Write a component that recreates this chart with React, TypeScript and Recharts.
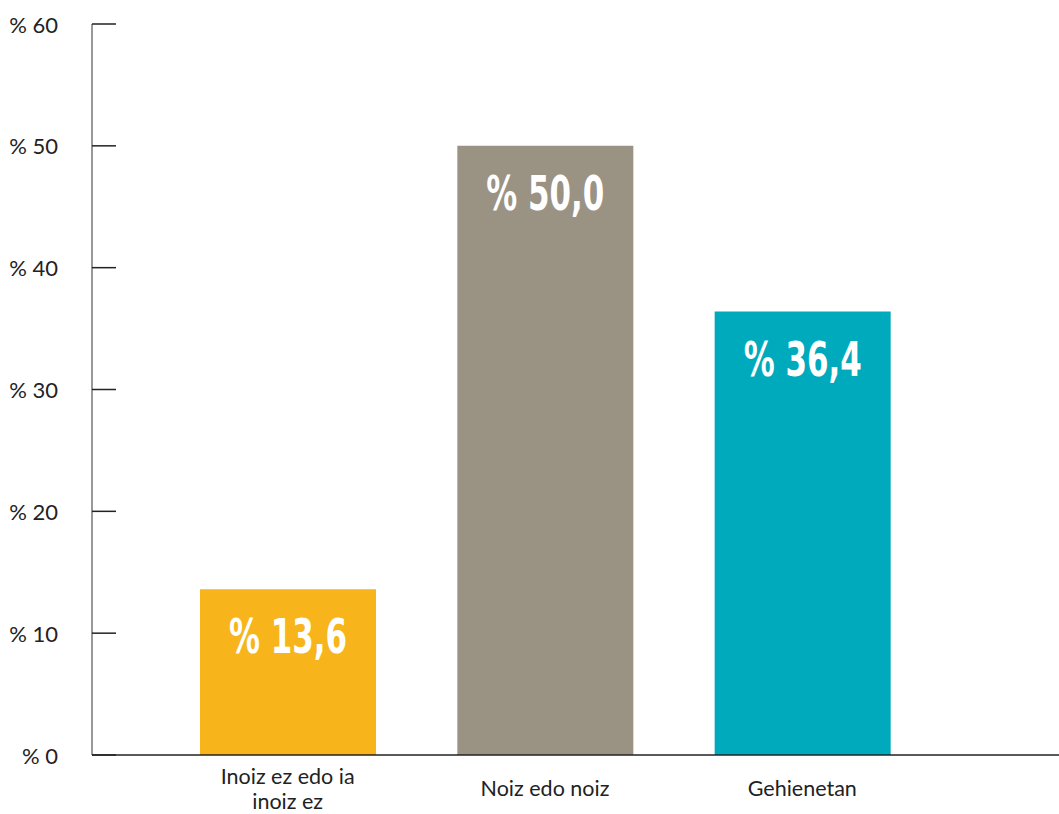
import React from "react";
import { BarChart, Bar, XAxis, YAxis, Cell, LabelList } from "recharts";

const categories = ["Inoiz ez edo ia inoiz ez", "Noiz edo noiz", "Gehienetan"];
const categoryLines = [["Inoiz ez edo ia", "inoiz ez"], ["Noiz edo noiz"], ["Gehienetan"]];
const values = [13.6, 50.0, 36.4];
const valueLabels = ["% 13,6", "% 50,0", "% 36,4"];
const barColors = ["#F8B51B", "#9A9283", "#00AABD"];
const yTicks = [0, 10, 20, 30, 40, 50, 60];

const data = categories.map((c, i) => ({ name: c, value: values[i], label: valueLabels[i], idx: i }));

const FONT = "Lato, 'Open Sans', sans-serif";

const YTick = (props: any) => {
  const { x, y, payload } = props;
  return (
    <g>
      <line x1={x} x2={x + 24} y1={y} y2={y} stroke="#222" strokeWidth={1.5} />
      <text x={x - 34} y={y} textAnchor="end" dominantBaseline="central" fontFamily={FONT} fontSize={22} fill="#222">
        {`% ${payload.value}`}
      </text>
    </g>
  );
};

const XTick = (props: any) => {
  const { x, index } = props;
  const lines = categoryLines[index] || [];
  const lh = 25;
  const center = 788;
  const start = center - ((lines.length - 1) * lh) / 2;
  return (
    <g>
      {lines.map((l: string, i: number) => (
        <text key={i} x={x} y={start + i * lh} textAnchor="middle" dominantBaseline="central" fontFamily={FONT} fontSize={21.5} fill="#222">
          {l}
        </text>
      ))}
    </g>
  );
};

const ValueLabel = (props: any) => {
  const { x, y, width, value } = props;
  return (
    <text
      x={x + width / 2}
      y={y + 47}
      textAnchor="middle"
      dominantBaseline="central"
      fill="#fff"
      fontFamily="'DejaVu Sans Condensed', 'DejaVu Sans', sans-serif"
      fontWeight="bold"
      fontSize={48}
      textLength={118}
      lengthAdjust="spacingAndGlyphs"
    >
      {value}
    </text>
  );
};

export default function App() {
  return (
    <div style={{ position: "absolute", left: 0, top: 0, width: 1059, height: 814, background: "#fff" }}>
      <BarChart width={1059} height={814} data={data} margin={{ top: 24, right: 0, bottom: 0, left: 0 }} barSize={176}>
        <XAxis
          dataKey="name"
          height={59}
          padding={{ left: 67, right: 128 }}
          axisLine={{ stroke: "#222", strokeWidth: 1.5 }}
          tickLine={false}
          tick={<XTick />}
          interval={0}
        />
        <YAxis
          width={92}
          domain={[0, 60]}
          ticks={yTicks}
          axisLine={{ stroke: "#333", strokeWidth: 1 }}
          tickLine={false}
          tickSize={0}
          tickMargin={0}
          tick={<YTick />}
          interval={0}
        />
        <Bar dataKey="value" isAnimationActive={false}>
          {data.map((d, i) => (
            <Cell key={i} fill={barColors[i]} />
          ))}
          <LabelList dataKey="label" content={<ValueLabel />} />
        </Bar>
      </BarChart>
    </div>
  );
}
